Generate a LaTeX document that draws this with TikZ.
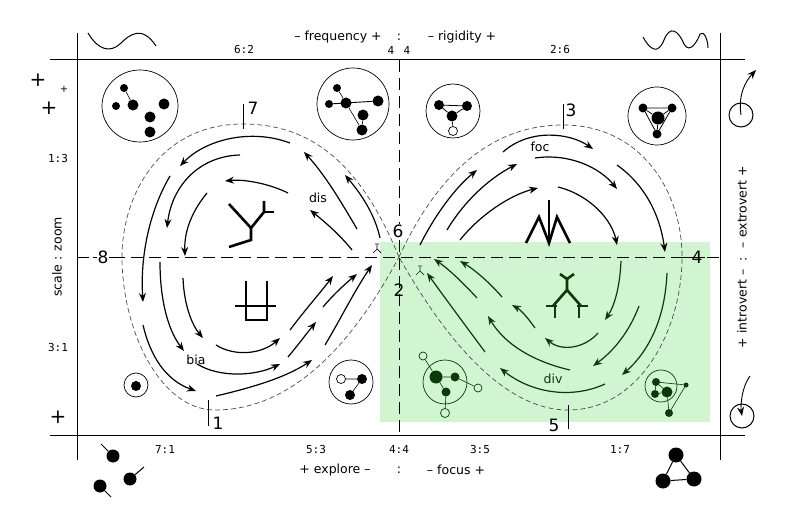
\documentclass[tikz,border=0pt]{standalone}
\usepackage{fontspec}
\setmainfont{DejaVu Sans}
\newfontfamily\monof{DejaVu Sans Mono}
\usetikzlibrary{arrows.meta}
\definecolor{pale}{HTML}{D0F5D0}
\definecolor{dkg}{HTML}{0A3A0A}
\begin{document}
\begin{tikzpicture}[x=1pt,y=-1pt,
  flow/.style={-{Stealth[length=9pt,width=7pt]},line width=1.2pt},
  gflow/.style={flow,dkg},
  frame/.style={line width=1pt},
  axis/.style={dash pattern=on 12pt off 6pt,line width=0.8pt},
  sep/.style={dash pattern=on 5pt off 3pt,line width=0.7pt,black!70},
  lbl/.style={font=\fontsize{12.5}{14}\selectfont},
  rat/.style={font=\monof\fontsize{11}{13}\selectfont},
  num/.style={font=\fontsize{17}{19}\selectfont},
  dot/.style={circle,fill=black,inner sep=0pt},
  wdot/.style={circle,draw=black,fill=white,inner sep=0pt,line width=0.7pt},
  gdot/.style={circle,fill=dkg,inner sep=0pt},
  gwdot/.style={circle,draw=dkg,fill=pale,inner sep=0pt,line width=0.7pt},
  ring/.style={circle,draw,line width=0.7pt,inner sep=0pt},
  glyph/.style={line width=2.6pt},
  tiny/.style={line width=0.6pt}]
\useasboundingbox (0,0) rectangle (800,518);
\fill[pale] (380,242) rectangle (710,422);
% frame
\draw[frame] (50,60) -- (745,60);
\draw[frame] (50,435) -- (745,435);
\draw[frame] (77,33) -- (77,460);
\draw[frame] (720,33) -- (720,460);
\draw[axis] (399,60) -- (399,435);
\draw[axis] (77,257) -- (720,257);
% top / bottom labels
\node[lbl] (tf) at (338,37) {– frequency +};
\node[lbl] (tc) at (399,37) {:};
\node[lbl] (tr) at (462,37) {– rigidity +};
\node[rat] (r62) at (244,50) {6:2};
\node[rat] (r4a) at (391,50) {4};
\node[rat] (r4b) at (407,50) {4};
\node[rat] (r26) at (560,50) {2:6};
\node[rat] (r71) at (165,449) {7:1};
\node[rat] (r53) at (316,449) {5:3};
\node[rat] (r44) at (399,449) {4:4};
\node[rat] (r35) at (480,449) {3:5};
\node[rat] (r17) at (620,449) {1:7};
\node[lbl] (be) at (335,470) {+ explore –};
\node[lbl] (bc) at (399,470) {:};
\node[lbl] (bf) at (456,470) {– focus +};
\node[lbl,rotate=90] (ls) at (57,257) {scale : zoom};
\node[rat] (r13) at (58,158) {1:3};
\node[rat] (r31) at (58,347) {3:1};
\node[lbl,rotate=90] (rs) at (742,257) {+ introvert – \ : \ – extrovert +};
% waves
\draw[line width=1pt] (88,33) .. controls (98,50) and (110,53) .. (120,44) .. controls (130,34) and (142,25) .. (156,46);
\draw[line width=1pt] (643,37) .. controls (650,50) and (658,55) .. (664,40) .. controls (670,25) and (678,30) .. (684,44) .. controls (690,55) and (698,40) .. (700,34) .. controls (704,30) and (708,40) .. (708,48);
% plus signs
\node[font=\fontsize{20}{20}\selectfont] (p1) at (38,80) {+};
\node[font=\fontsize{10}{10}\selectfont] (p2) at (64,89) {+};
\node[font=\fontsize{20}{20}\selectfont] (p3) at (49,108) {+};
\node[font=\fontsize{20}{20}\selectfont] (p4) at (58,417) {+};
% right side rotors
\node[ring,minimum size=24pt,line width=1pt] (ct) at (741,115) {};
\draw[flow,line width=0.9pt] (ct.center) .. controls (738,95) and (745,82) .. (756,70);
\node[ring,minimum size=24pt,line width=1pt] (cb) at (742,416) {};
\draw[flow,line width=0.9pt] (750,376) .. controls (740,390) and (741,410) .. (cb.center);
% bottom-left dots
\node[dot,minimum size=13pt] (d1) at (113,456) {};
\draw[line width=1pt] (d1) -- (101,444);
\node[dot,minimum size=13pt] (d2) at (130,479) {};
\draw[line width=1pt] (d2) -- (144,467);
\node[dot,minimum size=13pt] (d3) at (100,486) {};
\draw[line width=1pt] (d3) -- (111,497);
% bottom-right triangle
\node[dot,minimum size=15pt] (t1) at (676,455) {};
\node[dot,minimum size=15pt] (t2) at (663,481) {};
\node[dot,minimum size=15pt] (t3) at (694,479) {};
\draw[line width=1pt] (t1) -- (t2) -- (t3) -- (t1);
% circle TL
\draw[line width=0.7pt] (140,106) ellipse (38 and 36);
\node[dot,minimum size=8pt] (a1) at (124,88) {};
\node[dot,minimum size=8pt] (a2) at (116,106) {};
\node[dot,minimum size=11pt] (a3) at (133,105) {};
\node[dot,minimum size=11pt] (a4) at (164,104) {};
\node[dot,minimum size=11pt] (a5) at (150,117) {};
\node[dot,minimum size=11pt] (a6) at (150,132) {};
\draw[tiny] (a1) -- (a3);
% circle top mid-left
\draw[line width=0.7pt] (353,104) circle (36);
\node[dot,minimum size=8pt] (b1) at (337,88) {};
\node[dot,minimum size=8pt] (b2) at (329,104) {};
\node[dot,minimum size=11pt] (b3) at (346,103) {};
\node[dot,minimum size=11pt] (b4) at (378,101) {};
\node[dot,minimum size=11pt] (b5) at (363,115) {};
\node[dot,minimum size=11pt] (b6) at (362,130) {};
\draw[tiny] (b1) -- (b3) -- (b6);
\draw[line width=0.9pt] (b2) -- (b4);
\draw[tiny] (b5) -- (b6);
% circle top mid-right
\draw[line width=0.7pt] (453,111) circle (27);
\node[dot,minimum size=10pt] (c1) at (439,105) {};
\node[dot,minimum size=10pt] (c2) at (467,106) {};
\node[dot,minimum size=11pt] (c3) at (452,116) {};
\node[wdot,minimum size=9pt] (c4) at (453,131) {};
\draw[line width=0.8pt] (c1) -- (c2) -- (c3) -- (c1);
\draw[tiny] (c3) -- (c4);
% circle far TR
\draw[line width=0.7pt] (657,116) circle (29);
\node[dot,minimum size=9pt] (e1) at (643,108) {};
\node[dot,minimum size=9pt] (e2) at (672,108) {};
\node[dot,minimum size=13pt] (e3) at (658,118) {};
\node[dot,minimum size=9pt] (e4) at (657,134) {};
\draw[line width=0.8pt] (e1) -- (e2) -- (e4) -- (e1);
\draw[line width=0.8pt] (e1) -- (e3) -- (e2);
\draw[line width=0.8pt] (e3) -- (e4);
% circle bottom-left small
\draw[line width=0.7pt] (136,385) circle (12);
\node[dot,minimum size=10pt] (f1) at (136,386) {};
% circle bottom mid-left
\draw[line width=0.7pt] (351,382) circle (22);
\node[wdot,minimum size=9pt] (g1) at (341,379) {};
\node[dot,minimum size=10pt] (g2) at (362,379) {};
\node[dot,minimum size=10pt] (g3) at (350,395) {};
\draw[tiny] (g1) -- (g2) -- (g3);
% green circle left
\draw[dkg,line width=0.7pt] (445,382) circle (22);
\node[gdot,minimum size=13pt] (h1) at (436,377) {};
\node[gdot,minimum size=9pt] (h2) at (455,377) {};
\node[gdot,minimum size=9pt] (h3) at (446,392) {};
\node[gwdot,minimum size=8pt] (h4) at (423,356) {};
\node[gwdot,minimum size=8pt] (h5) at (478,388) {};
\node[gwdot,minimum size=9pt] (h6) at (445,413) {};
\draw[dkg,tiny] (h4) -- (h1) -- (h2) -- (h5);
\draw[dkg,tiny] (h1) -- (h3) -- (h6);
% green circle right
\draw[dkg,line width=0.7pt] (661,386) circle (16);
\node[gdot,minimum size=8pt] (k1) at (656,382) {};
\node[gdot,minimum size=8pt] (k2) at (655,394) {};
\node[gdot,minimum size=11pt] (k3) at (667,392) {};
\node[gdot,minimum size=5pt] (k4) at (686,385) {};
\node[gdot,minimum size=8pt] (k5) at (669,413) {};
\draw[dkg,tiny] (k1) -- (k4) -- (k5) -- (k3) -- (k1) -- (k2) -- (k3);
% glyphs
\draw[glyph] (229,204) -- (251,228) -- (264,212) -- (264,201);
\draw[glyph] (264,212) -- (274,212);
\draw[glyph] (251,228) -- (251,240) -- (229,247);
\draw[glyph,line width=2.2pt] (246,281) -- (246,320) -- (267,320) -- (267,281);
\draw[glyph,line width=2.2pt] (235,306) -- (276,306);
\draw[glyph,line cap=butt] (526,243) -- (539,217) -- (549,243) -- (557,217) -- (570,243);
\draw[glyph] (549,200) -- (549,243);
\draw[glyph,dkg] (567,290) -- (567,279) -- (560,274);
\draw[glyph,dkg] (567,279) -- (574,274);
\draw[glyph,dkg] (567,290) -- (553,306);
\draw[glyph,dkg] (567,290) -- (581,306);
\draw[glyph,dkg] (546,306) -- (557,306) (555,306) -- (555,318);
\draw[glyph,dkg] (577,306) -- (588,306) (579,306) -- (579,318);
% dashed separatrix
\draw[sep] (399,257) .. controls (365,175) and (320,124) .. (243,124) .. controls (160,124) and (122,195) .. (122,257) .. controls (122,330) and (160,410) .. (215,410) .. controls (300,410) and (360,330) .. (399,257);
\draw[sep] (399,257) .. controls (430,190) and (480,125) .. (563,125) .. controls (640,125) and (682,190) .. (682,257) .. controls (682,330) and (640,410) .. (568,410) .. controls (500,410) and (440,330) .. (399,257);
% ticks and numbers
\draw[line width=0.9pt] (243,104) -- (243,129);
\node[num] (n7) at (253,108) {7};
\draw[line width=0.9pt] (563,104) -- (563,129);
\node[num] (n3) at (571,110) {3};
\draw[line width=0.9pt] (208,400) -- (208,426);
\node[num] (n1) at (218,423) {1};
\draw[line width=0.9pt] (568,405) -- (568,429);
\node[num] (n5) at (554,425) {5};
\draw[line width=0.9pt] (93,257) -- (123,257);
\node[num,fill=white,inner sep=1pt] (n8) at (103,257) {8};
\draw[line width=0.9pt] (675,257) -- (705,257);
\node[num,inner sep=1pt] (n4) at (697,257) {4};
\node[num,fill=white,inner sep=1pt] (n6) at (398,231) {6};
\node[num,inner sep=1pt] (n2) at (399,290) {2};
\draw[line width=0.7pt] (377,245) -- (377,249) -- (373,253) (377,249) -- (381,253) (375,244) -- (379,244);
\draw[line width=0.7pt,dkg] (420,267) -- (420,271) -- (416,275) (420,271) -- (424,275) (418,266) -- (422,266);
% labels
\node[lbl] (ldis) at (318,198) {dis};
\node[lbl] (lbia) at (196,360) {bia};
\node[lbl] (lfoc) at (540,147) {foc};
\node[lbl,dkg] (ldiv) at (553,379) {div};
% left lobe flows (top)
\draw[flow] (290,143) .. controls (250,128) and (205,140) .. (180,166);
\draw[flow] (240,155) .. controls (200,156) and (172,185) .. (167,228);
\draw[flow] (170,176) .. controls (150,210) and (140,255) .. (143,302);
\draw[flow] (207,193) .. controls (193,210) and (184,230) .. (185,256);
\draw[flow] (288,193) .. controls (270,184) and (245,179) .. (225,181);
\draw[flow] (357,229) .. controls (340,200) and (325,175) .. (304,152);
\draw[flow] (380,238) .. controls (375,215) and (362,195) .. (345,175);
\draw[flow] (352,250) .. controls (340,235) and (325,222) .. (310,210);
% left lobe flows (bottom)
\draw[flow] (143,325) .. controls (150,355) and (165,380) .. (196,391);
\draw[flow] (160,262) .. controls (160,300) and (168,330) .. (184,351);
\draw[flow] (183,278) .. controls (184,305) and (192,325) .. (203,338);
\draw[flow] (216,396) .. controls (250,388) and (285,378) .. (312,360);
\draw[flow] (197,364) .. controls (220,378) and (255,376) .. (280,364);
\draw[flow] (216,345) .. controls (235,357) and (262,354) .. (280,338);
\draw[flow] (288,357) .. controls (298,345) and (307,333) .. (316,322);
\draw[flow] (290,330) .. controls (305,310) and (320,293) .. (333,276);
\draw[flow] (323,307) .. controls (333,295) and (345,284) .. (357,274);
\draw[flow] (325,345) .. controls (340,320) and (355,290) .. (372,265);
% right lobe flows (top)
\draw[flow] (503,152) .. controls (530,128) and (570,133) .. (593,149);
\draw[flow] (535,158) .. controls (570,153) and (600,168) .. (617,189);
\draw[flow] (558,187) .. controls (590,195) and (612,220) .. (617,245);
\draw[flow] (617,165) .. controls (645,185) and (660,215) .. (665,252);
\draw[flow] (420,245) .. controls (435,215) and (455,188) .. (477,170);
\draw[flow] (447,230) .. controls (465,200) and (490,178) .. (517,164);
\draw[flow] (460,240) .. controls (480,215) and (510,195) .. (538,188);
% right lobe flows (bottom, green)
\draw[gflow] (667,273) .. controls (665,320) and (648,352) .. (622,375);
\draw[gflow] (639,306) .. controls (630,330) and (615,350) .. (593,366);
\draw[gflow] (621,261) .. controls (620,285) and (615,305) .. (605,320);
\draw[gflow] (598,333) .. controls (585,348) and (562,352) .. (545,338);
\draw[gflow] (535,328) .. controls (528,318) and (521,310) .. (512,305);
\draw[gflow] (570,370) .. controls (535,362) and (505,345) .. (488,316);
\draw[gflow] (605,384) .. controls (570,400) and (530,392) .. (500,368);
\draw[gflow] (485,352) .. controls (465,325) and (445,298) .. (427,273);
\draw[gflow] (477,298) .. controls (465,285) and (450,270) .. (434,259);
\draw[gflow] (502,297) .. controls (490,283) and (475,270) .. (460,261);
\end{tikzpicture}
\end{document}
